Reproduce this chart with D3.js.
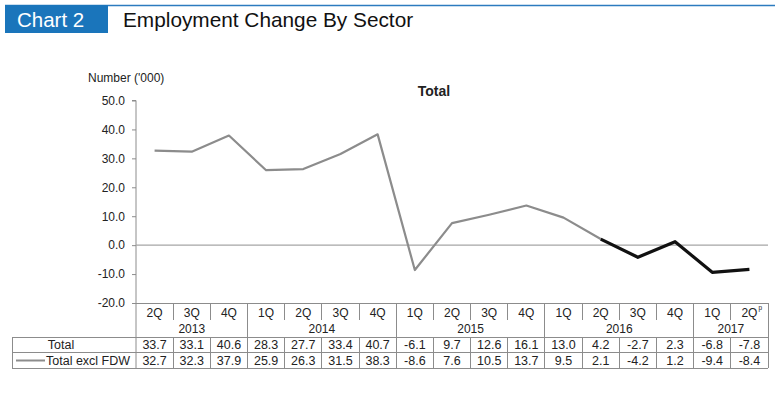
<!DOCTYPE html>
<html>
<head>
<meta charset="utf-8">
<script src="https://cdn.jsdelivr.net/npm/d3@7"></script>
<style>
  body { margin: 0; background: #fff; }
  text { font-family: "Liberation Sans", Arial, sans-serif; }
</style>
</head>
<body>
<div id="chart"></div>
<script>
// chart size
var svgWidth = 778;
var svgHeight = 394;

// data
var quarters = ["2Q", "3Q", "4Q", "1Q", "2Q", "3Q", "4Q", "1Q", "2Q", "3Q", "4Q",
                "1Q", "2Q", "3Q", "4Q", "1Q", "2Q"];
var years = ["2013", "2014", "2015", "2016", "2017"];
var yearCounts = [3, 4, 4, 4, 2];
var total = [33.7, 33.1, 40.6, 28.3, 27.7, 33.4, 40.7, -6.1, 9.7, 12.6, 16.1,
             13.0, 4.2, -2.7, 2.3, -6.8, -7.8];
var totalExclFDW = [32.7, 32.3, 37.9, 25.9, 26.3, 31.5, 38.3, -8.6, 7.6, 10.5, 13.7,
                    9.5, 2.1, -4.2, 1.2, -9.4, -8.4];
var yTicks = [50, 40, 30, 20, 10, 0, -10, -20];
var blackFrom = 12; // 2Q 2016 onwards drawn in black

// plot area (window.top is reserved, so no "top" here)
var plotLeft = 136, plotRight = 768, plotTop = 100.5, plotBottom = 303;
var tableLeft = 12;
var rowTop = 337, rowMid = 352, rowBottom = 368;
var axisColor = "#8c8c8c";
var textColor = "#222";

var svg = d3.select("#chart").append("svg")
  .attr("width", svgWidth)
  .attr("height", svgHeight);

// header
svg.append("line")
  .attr("x1", 5).attr("x2", 775).attr("y1", 5.5).attr("y2", 5.5)
  .attr("stroke", "#2c7bbf").attr("stroke-width", 1.5);
svg.append("rect")
  .attr("x", 5).attr("y", 5).attr("width", 103).attr("height", 28)
  .attr("fill", "#1a75bb");
svg.append("text")
  .attr("x", 17).attr("y", 26.5)
  .attr("fill", "#fff").attr("font-size", 20.5)
  .text("Chart 2");
svg.append("text")
  .attr("x", 123).attr("y", 26.5)
  .attr("fill", "#111").attr("font-size", 20.8)
  .text("Employment Change By Sector");

// scales
var x = d3.scaleBand()
  .domain(d3.range(quarters.length))
  .range([plotLeft, plotRight]);
var y = d3.scaleLinear()
  .domain([-20, 50])
  .range([plotBottom, plotTop]);

// y axis (plain hyphen for negatives, as in the reference)
var yAxis = svg.append("g")
  .attr("transform", `translate(${plotLeft}, 0)`)
  .call(d3.axisLeft(y).tickValues(yTicks).tickSize(4).tickPadding(7).tickFormat(d => d.toFixed(1)));
yAxis.select(".domain").attr("stroke", axisColor).attr("d", `M-4,${y(50)}H0V${rowBottom}`);
yAxis.selectAll(".tick line").attr("stroke", axisColor);
yAxis.selectAll(".tick text")
  .attr("font-size", 12).attr("fill", textColor)
  .attr("font-family", "Liberation Sans, Arial, sans-serif");

svg.append("text")
  .attr("x", 88).attr("y", 82)
  .attr("font-size", 12).attr("fill", textColor)
  .text("Number ('000)");

svg.append("text")
  .attr("x", 434).attr("y", 96)
  .attr("text-anchor", "middle")
  .attr("font-size", 14).attr("font-weight", "bold").attr("fill", textColor)
  .text("Total");

// zero line
svg.append("line")
  .attr("x1", plotLeft).attr("x2", plotRight)
  .attr("y1", y(0)).attr("y2", y(0))
  .attr("stroke", "#a6a6a6").attr("stroke-width", 1.3);

// line
var line = d3.line()
  .x(i => x(i) + x.bandwidth() / 2)
  .y(i => y(totalExclFDW[i]));

svg.append("path")
  .datum(d3.range(0, blackFrom + 1))
  .attr("d", line)
  .attr("fill", "none")
  .attr("stroke", "#8c8c8c")
  .attr("stroke-width", 2.2)
  .attr("stroke-linejoin", "round");

svg.append("path")
  .datum(d3.range(blackFrom, totalExclFDW.length))
  .attr("d", line)
  .attr("fill", "none")
  .attr("stroke", "#111")
  .attr("stroke-width", 3.2)
  .attr("stroke-linejoin", "round");

// table
var grid = svg.append("g")
  .attr("stroke", axisColor)
  .attr("stroke-width", 1)
  .attr("shape-rendering", "crispEdges");

// x axis / borders of table
grid.append("line").attr("x1", plotLeft).attr("x2", plotRight).attr("y1", plotBottom).attr("y2", plotBottom);
grid.append("line").attr("x1", tableLeft).attr("x2", plotRight).attr("y1", rowTop).attr("y2", rowTop);
grid.append("line").attr("x1", tableLeft).attr("x2", plotRight).attr("y1", rowMid).attr("y2", rowMid);
grid.append("line").attr("x1", tableLeft).attr("x2", plotRight).attr("y1", rowBottom).attr("y2", rowBottom);
grid.append("line").attr("x1", tableLeft).attr("x2", tableLeft).attr("y1", rowTop).attr("y2", rowBottom);
grid.append("line").attr("x1", plotRight).attr("x2", plotRight).attr("y1", plotBottom).attr("y2", rowBottom);

// year boundaries
var yearStart = [0];
yearCounts.forEach((n, i) => yearStart.push(yearStart[i] + n));
grid.selectAll(".yearSep")
  .data(yearStart.slice(1, -1))
  .enter().append("line")
  .attr("x1", d => x(d)).attr("x2", d => x(d))
  .attr("y1", plotBottom).attr("y2", rowTop);

// quarter dividers in header row
grid.selectAll(".qSep")
  .data(d3.range(1, quarters.length).filter(i => !yearStart.includes(i)))
  .enter().append("line")
  .attr("x1", d => x(d)).attr("x2", d => x(d))
  .attr("y1", plotBottom).attr("y2", plotBottom + 17);

// column dividers in data rows
grid.selectAll(".cSep")
  .data(d3.range(1, quarters.length))
  .enter().append("line")
  .attr("x1", d => x(d)).attr("x2", d => x(d))
  .attr("y1", rowTop).attr("y2", rowBottom);

var cx = i => x(i) + x.bandwidth() / 2;

// quarter labels
svg.selectAll(".qLabel")
  .data(quarters)
  .enter().append("text")
  .attr("x", (d, i) => cx(i))
  .attr("y", 317)
  .attr("text-anchor", "middle")
  .attr("font-size", 12).attr("fill", textColor)
  .text(d => d);
// preliminary mark on last quarter
svg.append("text")
  .attr("x", cx(quarters.length - 1) + 9).attr("y", 310)
  .attr("font-size", 6.5).attr("fill", textColor)
  .text("p");

// year labels
svg.selectAll(".yLabel")
  .data(years)
  .enter().append("text")
  .attr("x", (d, i) => (x(yearStart[i]) + x(yearStart[i + 1] - 1) + x.bandwidth()) / 2)
  .attr("y", 333)
  .attr("text-anchor", "middle")
  .attr("font-size", 12).attr("fill", textColor)
  .text(d => d);

// data rows
svg.selectAll(".totalVal")
  .data(total)
  .enter().append("text")
  .attr("x", (d, i) => cx(i))
  .attr("y", 349)
  .attr("text-anchor", "middle")
  .attr("font-size", 12.5).attr("fill", textColor)
  .text(d => d.toFixed(1));

svg.selectAll(".exclVal")
  .data(totalExclFDW)
  .enter().append("text")
  .attr("x", (d, i) => cx(i))
  .attr("y", 365)
  .attr("text-anchor", "middle")
  .attr("font-size", 12.5).attr("fill", textColor)
  .text(d => d.toFixed(1));

// row labels
svg.append("text")
  .attr("x", 61).attr("y", 348.5)
  .attr("text-anchor", "middle")
  .attr("font-size", 12.5).attr("fill", textColor)
  .text("Total");
svg.append("line")
  .attr("x1", 16).attr("x2", 45).attr("y1", 360.5).attr("y2", 360.5)
  .attr("stroke", "#8c8c8c").attr("stroke-width", 2);
svg.append("text")
  .attr("x", 46).attr("y", 364.5)
  .attr("font-size", 12.5).attr("fill", textColor)
  .text("Total excl FDW");
</script>
</body>
</html>
